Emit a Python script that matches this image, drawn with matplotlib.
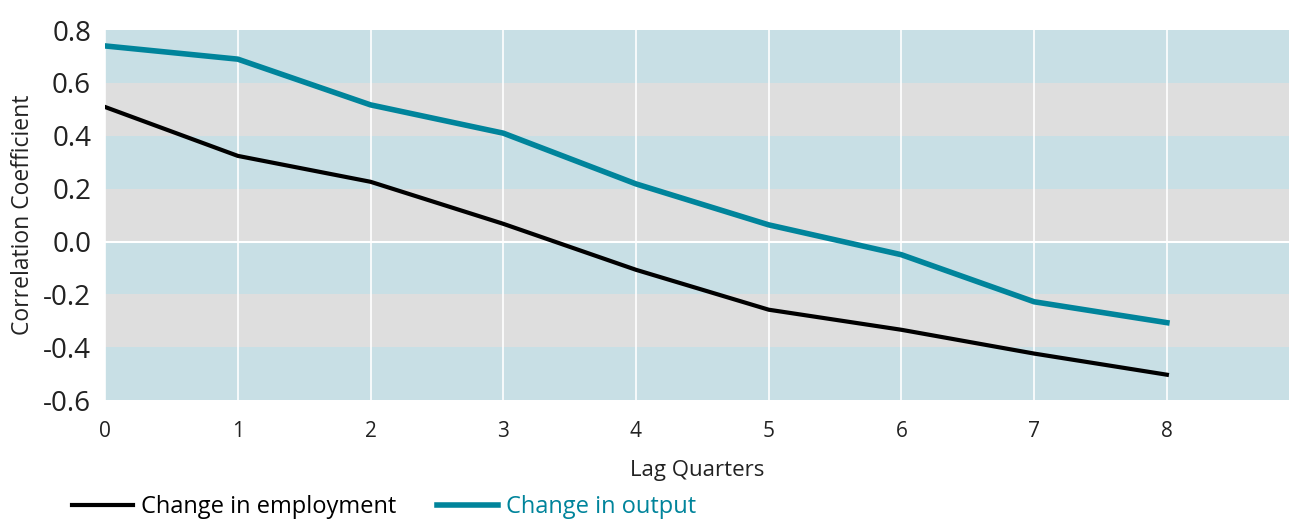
import matplotlib.pyplot as plt

plt.rcParams['font.family'] = ['Open Sans', 'DejaVu Sans']

lags = [0, 1, 2, 3, 4, 5, 6, 7, 8]
employment = [0.509, 0.324, 0.226, 0.067, -0.107, -0.258, -0.334, -0.424, -0.504]
output = [0.74, 0.69, 0.517, 0.41, 0.218, 0.063, -0.05, -0.228, -0.307]

band_edges = [-0.6, -0.4, -0.2, 0.0, 0.2, 0.4, 0.6, 0.8]
band_colors = ['#c8dfe5', '#dedede']
yticks = [-0.6, -0.4, -0.2, 0.0, 0.2, 0.4, 0.6, 0.8]

teal = '#00849b'

fig = plt.figure(figsize=(12.89, 5.23), dpi=100)
ax = fig.add_axes([0.0815, 0.235, 1 - 0.0815, 0.7075])

for i in range(len(band_edges) - 1):
    ax.axhspan(band_edges[i], band_edges[i + 1], color=band_colors[i % 2], lw=0, zorder=0)

for x in lags:
    ax.axvline(x, color='white', lw=1.2, zorder=1)
ax.axhline(0, color='white', lw=1.5, zorder=1)

ax.plot(lags, employment, color='black', lw=3, label='Change in employment', zorder=3)
ax.plot(lags, output, color=teal, lw=4, label='Change in output', zorder=3)

ax.set_xlim(0, 8.92)
ax.set_ylim(-0.6, 0.8)
ax.set_xticks(lags)
ax.set_yticks(yticks)
ax.set_yticklabels([f'{v:.1f}' for v in yticks], fontsize=20, color='#222222')
ax.tick_params(axis='x', labelsize=15, colors='#222222', length=0, pad=15)
ax.tick_params(axis='y', length=0, pad=10)
for s in ax.spines.values():
    s.set_visible(False)

ax.set_xlabel('Lag Quarters', fontsize=16, color='#222222', labelpad=13)
ax.set_ylabel('Correlation Coefficient', fontsize=16.5, color='#222222', labelpad=6)

leg = fig.legend(loc='center left', bbox_to_anchor=(0.039, 0.03), ncol=2, frameon=False,
                 fontsize=17, handlelength=2.6, handletextpad=0.35, columnspacing=1.7)
leg.get_texts()[1].set_color(teal)

fig.savefig('out.png', dpi=100)
